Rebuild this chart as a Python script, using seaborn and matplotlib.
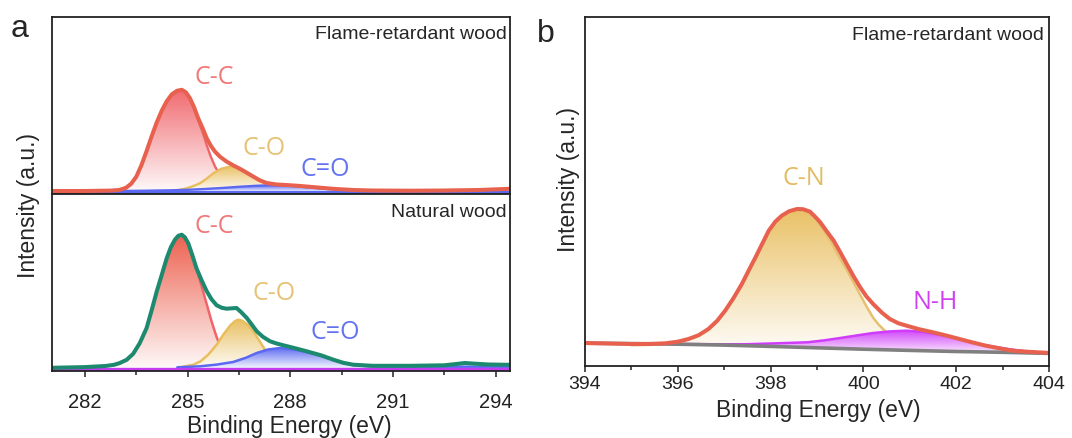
import numpy as np
import matplotlib
matplotlib.use("Agg")
import matplotlib.pyplot as plt
import matplotlib.colors as mcolors
from matplotlib.patches import Polygon
from matplotlib.ticker import FixedLocator
import seaborn as sns

# ---------------- data (binding energy in eV, intensity in arbitrary units) ----------------
# Panel a, top: flame-retardant wood, C 1s
fr_env_x = [281.03, 282.0, 282.75, 283.0, 283.2, 283.35, 283.5, 283.65, 283.8, 283.95, 284.1, 284.25, 284.39,
            284.54, 284.69, 284.83, 284.95, 285.07, 285.19, 285.31, 285.44, 285.56, 285.68, 285.8, 285.95,
            286.14, 286.33, 286.53, 286.73, 286.92, 287.11, 287.31, 287.6, 287.89, 288.3, 288.67, 289.25,
            289.84, 290.4, 291.5, 292.5, 293.5, 294.42]
fr_env_y = [3.3, 3.3, 3.7, 4.3, 6.5, 10.5, 17.5, 29, 43, 58, 72, 84, 93,
            100, 103.5, 104.5, 102, 96, 87, 76, 66, 56, 48.5, 42.7, 37.5,
            32.7, 29, 25.5, 21.5, 17.7, 14, 11.3, 9.8, 9.3, 8.3, 7.2, 5.5,
            4.3, 3.8, 3.6, 3.8, 4.3, 5.5]
fr_cc_x = [282.9, 283.0, 283.2, 283.35, 283.5, 283.65, 283.8, 283.95, 284.1, 284.25, 284.39, 284.54, 284.69,
           284.83, 284.95, 285.07, 285.19, 285.31, 285.44, 285.56, 285.68, 285.8, 285.93, 286.07, 286.22,
           286.4, 286.65, 287.0]
fr_cc_y = [3.6, 4.3, 6.5, 10.5, 17.5, 29, 43, 58, 72, 84, 93, 100, 103.5,
           104.5, 102, 95.5, 86, 74, 62, 49, 37.5, 28, 20, 13.5, 8.5,
           5.5, 4, 3.5]
fr_co_x = [284.7, 284.97, 285.17, 285.36, 285.55, 285.75, 285.98, 286.24, 286.43, 286.63, 286.82, 287.02,
           287.17, 287.31, 287.55, 287.8, 288.1, 288.4]
fr_co_y = [4, 6, 8.3, 11, 15.5, 21, 25.5, 27.7, 27, 24.3, 20.3, 15,
           12.3, 10, 7.5, 5.2, 4, 3.5]
fr_cdo_x = [283.0, 283.8, 284.5, 285.0, 285.5, 286.0, 286.5, 287.0, 287.4, 287.8, 288.2, 288.6,
            289.0, 289.5, 290.0, 290.5]
fr_cdo_y = [3.3, 3.6, 4, 4.5, 5.3, 6.3, 7.5, 8.5, 9, 8.8, 8, 6.8,
            5.5, 4.3, 3.5, 3.3]
fr_base_x = [281.03, 294.42]
fr_base_y = [2.5, 2.5]

# Panel a, bottom: natural wood, C 1s
nw_env_x = [281.03, 282.0, 282.6, 282.85, 283.02, 283.22, 283.41, 283.6, 283.8, 283.95, 284.1, 284.25, 284.39,
            284.51, 284.63, 284.73, 284.83, 284.92, 285.02, 285.14, 285.26, 285.41, 285.56, 285.7, 285.85,
            286.0, 286.14, 286.3, 286.43, 286.57, 286.73, 286.88, 287.02, 287.2, 287.41, 287.6, 287.8,
            288.15, 288.48, 288.9, 289.26, 289.55, 289.84, 290.4, 291.5, 292.5, 292.9, 293.1, 293.4,
            293.8, 294.42]
nw_env_y = [3.5, 4.2, 5.3, 6.5, 8.3, 11.5, 17.5, 28, 43, 61, 80, 97, 113,
            124, 131.6, 135.5, 136.6, 134, 128, 116, 103, 91, 80, 72, 66,
            63.5, 62.6, 63, 63.3, 59, 53.3, 46.5, 40, 34.5, 30, 27.8, 26,
            23, 20, 16, 11.6, 8.5, 6.6, 5.5, 5.5, 6, 7.5, 8.3, 7.6,
            6.8, 6.5]
nw_cc_x = [282.85, 283.02, 283.22, 283.41, 283.6, 283.8, 283.95, 284.1, 284.25, 284.39, 284.51, 284.63,
           284.73, 284.83, 284.92, 285.02, 285.14, 285.26, 285.41, 285.56, 285.7, 285.85, 286.0, 286.17,
           286.37, 286.6, 286.9]
nw_cc_y = [6.5, 8.3, 11.5, 17.5, 28, 43, 61, 80, 97, 113, 124, 131.6,
           135.5, 136.6, 134, 128, 116, 103, 85, 67, 50, 34, 22, 13,
           7.5, 5, 4]
nw_co_x = [284.85, 285.17, 285.38, 285.6, 285.85, 286.05, 286.25, 286.38, 286.48, 286.6, 286.76, 286.92,
           287.08, 287.26, 287.5, 287.75, 288.0, 288.3]
nw_co_y = [4.5, 6.6, 10, 16.5, 26.6, 37, 46, 50, 51.6, 50.5, 46.5, 40,
           31.5, 21.6, 13.5, 8, 5.5, 4.5]
nw_cdo_x = [284.7, 285.36, 285.85, 286.33, 286.7, 287.02, 287.35, 287.7, 288.1, 288.48, 288.9, 289.26,
            289.55, 289.84, 290.3, 290.8, 292.0, 294.42]
nw_cdo_y = [4, 5, 6.7, 9.3, 13.5, 18.3, 21.8, 23.3, 22, 19.3, 15.5, 11.3,
            8.2, 6.3, 5, 4.6, 4.6, 4.6]
nw_base_x = [281.03, 294.42]
nw_base_y = [2.8, 2.8]

# Panel b: flame-retardant wood, N 1s
n_env_x = [394.0, 394.5, 395.0, 395.4, 395.73, 396.0, 396.23, 396.45, 396.66, 396.85, 397.02, 397.2,
           397.38, 397.52, 397.67, 397.82, 397.96, 398.1, 398.24, 398.4, 398.57, 398.7, 398.85, 399.0,
           399.07, 399.2, 399.36, 399.5, 399.64, 399.78, 399.93, 400.07, 400.21, 400.4, 400.57, 400.75,
           400.93, 401.2, 401.5, 401.8, 402.07, 402.35, 402.64, 402.93, 403.21, 403.6, 404.0]
n_env_y = [22.7, 22.2, 21.7, 21.8, 22.4, 24, 26.7, 30.5, 36.7, 45, 55, 67.5,
           81.7, 94.5, 108, 122, 135, 144, 150, 154.5, 156.7, 156.5, 154, 147,
           143.4, 135, 125, 113.5, 101.7, 90, 78.4, 69, 61.7, 53, 46.7, 42.5,
           40, 36.5, 33.4, 30, 26.7, 23.3, 20, 17.4, 15, 13.8, 12.8]
n_cn_x = [395.0, 395.4, 395.73, 396.0, 396.23, 396.45, 396.66, 396.85, 397.02, 397.2, 397.38, 397.52,
          397.67, 397.82, 397.96, 398.1, 398.24, 398.4, 398.57, 398.7, 398.85, 399.0, 399.15, 399.3,
          399.45, 399.64, 399.78, 399.93, 400.07, 400.21, 400.33, 400.46, 400.6, 400.8, 401.0, 401.3,
          401.7, 402.2]
n_cn_y = [20.5, 20.8, 21.8, 23.5, 26.2, 30.3, 36.5, 45, 55, 67.5, 81.7, 94.5,
          108, 122, 135, 144, 150, 154.5, 156.7, 156, 153, 145.5, 135.5, 124,
          111, 96, 84, 71, 59, 48, 41, 35, 30, 25.5, 22, 19,
          17, 15.5]
n_nh_x = [396.0, 397.0, 397.5, 398.0, 398.4, 398.79, 399.15, 399.5, 399.85, 400.21, 400.57, 400.93,
          401.28, 401.64, 402.0, 402.36, 402.7, 403.07, 403.5, 404.0]
n_nh_y = [21.7, 21.4, 21.5, 22.2, 22.8, 23.4, 25.3, 27.7, 30.2, 32.7, 34.3, 35,
          34, 31, 27.5, 22.8, 19.8, 17, 14.3, 12.5]
n_base_x = [394, 395, 396, 397, 398, 399, 400, 401, 402, 403, 404]
n_base_y = [22.5, 22.1, 21.5, 20.6, 19.3, 17.9, 16.5, 15.3, 14.2, 13.4, 12.3]

# tick labels
a_ticks = [282, 285, 288, 291, 294]
a_minor = [283.5, 286.5, 289.5, 292.5]
b_ticks = [394, 396, 398, 400, 402, 404]
b_minor = [395, 397, 399, 401, 403]

# ---------------- style ----------------
sns.set_theme(style="ticks")
plt.rcParams["font.family"] = ["Liberation Sans", "DejaVu Sans"]
plt.rcParams["axes.edgecolor"] = "#222222"
plt.rcParams["xtick.color"] = "#222222"

ENV_RED = "#E8614E"
CC_RED = "#F0646A"
CO_GOLD = "#E8BE5E"
CDO_BLUE = "#5A68F2"
TEAL = "#1D8A70"
PURPLE = "#C43CF0"
NH_MAG = "#CF3CFA"
GRAY = "#808080"

W, H = 1072, 439
fig = plt.figure(figsize=(W / 100, H / 100), dpi=100)


def fx(px):
    return px / W


def fy(py):
    return 1 - py / H


ax_top = fig.add_axes([fx(51.7), fy(195.3), fx(510) - fx(51.7), fy(18.3) - fy(195.3)])
ax_bot = fig.add_axes([fx(51.7), fy(372.3), fx(510) - fx(51.7), fy(195.3) - fy(372.3)])
ax_b = fig.add_axes([fx(585), fy(366.7), fx(1049) - fx(585), fy(18.3) - fy(366.7)])


def line(ax, x, y, color, lw, z):
    sns.lineplot(x=x, y=y, ax=ax, color=color, linewidth=lw, zorder=z,
                 estimator=None, sort=False, legend=False, solid_joinstyle="round")


def grad_fill(ax, x, y, bx, by, color, tmax=0.95, tmin=0.03, z=1):
    px = list(x) + list(bx)
    py = list(y) + list(by)
    poly = Polygon(np.column_stack([px, py]), closed=True, facecolor="none",
                   edgecolor="none", transform=ax.transData)
    ax.add_patch(poly)
    top, bot = max(y), min(by)
    n = 256
    t = np.linspace(tmax, tmin, n)[:, None]
    rgb = np.array(mcolors.to_rgb(color))
    rgba = np.ones((n, 2, 4))
    rgba[..., :3] = t[..., None] * rgb + (1 - t[..., None]) * 1.0
    im = ax.imshow(rgba, extent=[min(px), max(px), bot, top], origin="upper",
                   aspect="auto", zorder=z, interpolation="bilinear")
    im.set_clip_path(poly)


def flat_base(x, v):
    return [x[-1], x[0]], [v, v]


# ---- panel a top ----
ax = ax_top
z = 1.0
for xs, ys, fc, lc in [(fr_cc_x, fr_cc_y, CC_RED, CC_RED), (fr_co_x, fr_co_y, CO_GOLD, CO_GOLD),
                       (fr_cdo_x, fr_cdo_y, CDO_BLUE, CDO_BLUE)]:
    bx, by = flat_base(xs, 2.5)
    grad_fill(ax, xs, ys, bx, by, fc, z=z)
    line(ax, xs, ys, lc, 1.7, z + 0.05)
    z += 0.1
line(ax, fr_base_x, fr_base_y, CDO_BLUE, 2.2, 2)
line(ax, fr_env_x, fr_env_y, ENV_RED, 2.9, 3)
ax.set_xlim(281.03, 294.42)
ax.set_ylim(0, 177)

# ---- panel a bottom ----
ax = ax_bot
z = 1.0
for xs, ys, fc, lc in [(nw_cc_x, nw_cc_y, "#EC5A48", CC_RED), (nw_co_x, nw_co_y, CO_GOLD, CO_GOLD),
                       (nw_cdo_x, nw_cdo_y, CDO_BLUE, CDO_BLUE)]:
    bx, by = flat_base(xs, 2.8)
    grad_fill(ax, xs, ys, bx, by, fc, z=z)
    line(ax, xs, ys, lc, 1.8, z + 0.05)
    z += 0.1
line(ax, nw_base_x, nw_base_y, PURPLE, 2.4, 2)
line(ax, nw_env_x, nw_env_y, TEAL, 2.9, 3)
ax.set_xlim(281.03, 294.42)
ax.set_ylim(0, 177)

# ---- panel b ----
ax = ax_b
grad_fill(ax, n_cn_x, n_cn_y, n_base_x[::-1], n_base_y[::-1], CO_GOLD, z=1.0)
line(ax, n_cn_x, n_cn_y, "#E6C070", 1.8, 1.05)
grad_fill(ax, n_nh_x, n_nh_y, n_base_x[::-1], n_base_y[::-1], NH_MAG, tmin=0.12, z=1.1)
line(ax, n_nh_x, n_nh_y, NH_MAG, 1.8, 1.15)
line(ax, n_base_x, n_base_y, GRAY, 2.6, 2)
line(ax, n_env_x, n_env_y, ENV_RED, 2.9, 3)
ax.set_xlim(394, 404)
ax.set_ylim(0, 348.4)

# ---- axes styling ----
for ax in (ax_top, ax_bot, ax_b):
    ax.set_yticks([])
    ax.set_ylabel("")
    ax.set_xlabel("")
    for s in ax.spines.values():
        s.set_linewidth(1.3)
        s.set_color("#222222")
        s.set_visible(True)
        s.set_zorder(5)

ax_top.tick_params(axis="x", which="both", bottom=False, labelbottom=False)

ax_bot.xaxis.set_major_locator(FixedLocator(a_ticks))
ax_bot.xaxis.set_minor_locator(FixedLocator(a_minor))
ax_bot.set_xticklabels([str(t) for t in a_ticks])
ax_bot.tick_params(axis="x", which="major", direction="out", length=4.5, width=1.1,
                   labelsize=14.5, pad=10.5, bottom=True)
ax_bot.tick_params(axis="x", which="minor", direction="out", length=2.8, width=1.1, bottom=True)

ax_b.xaxis.set_major_locator(FixedLocator(b_ticks))
ax_b.xaxis.set_minor_locator(FixedLocator(b_minor))
ax_b.set_xticklabels([str(t) for t in b_ticks])
ax_b.tick_params(axis="x", which="major", direction="out", length=4.5, width=1.1,
                 labelsize=14, pad=2.5, bottom=True)
ax_b.tick_params(axis="x", which="minor", direction="out", length=2.8, width=1.1, bottom=True)

ax_bot.set_xlabel("Binding Energy (eV)", fontsize=16.5)
ax_bot.xaxis.set_label_coords(0.518, -0.24)
ax_b.set_xlabel("Binding Energy (eV)", fontsize=16.5)
ax_b.xaxis.set_label_coords(0.503, -0.092)

fig.text(fx(28.7), fy(205), "Intensity (a.u.)", rotation=90, ha="center", va="center", fontsize=16.5)
fig.text(fx(568), fy(180), "Intensity (a.u.)", rotation=90, ha="center", va="center", fontsize=16.5)

fig.text(fx(20), fy(36.7), "a", ha="center", va="baseline", fontsize=23)
fig.text(fx(546), fy(41.7), "b", ha="center", va="baseline", fontsize=23)

ax_top.text(0.9935, 0.8836, "Flame-retardant wood", transform=ax_top.transAxes,
            ha="right", va="baseline", fontsize=14)
ax_bot.text(0.9935, 0.878, "Natural wood", transform=ax_bot.transAxes,
            ha="right", va="baseline", fontsize=14)
ax_b.text(0.990, 0.9377, "Flame-retardant wood", transform=ax_b.transAxes,
          ha="right", va="baseline", fontsize=14)

PF = ["Open Sans", "DejaVu Sans"]
lab = dict(ha="center", va="center", fontsize=18, family=PF)
ax_top.text(285.77, 117.5, "C-C", color="#F07878", **lab)
ax_top.text(287.23, 46.5, "C-O", color="#E6C274", **lab)
ax_top.text(289.03, 26.3, "C=O", color="#6373F0", **lab)
ax_bot.text(285.77, 146, "C-C", color="#F07878", **lab)
ax_bot.text(287.52, 78.4, "C-O", color="#E6C274", **lab)
ax_bot.text(289.3, 39.5, "C=O", color="#6373F0", **lab)
ax_b.text(398.72, 187.7, "C-N", color="#E2BC62", **lab)
ax_b.text(401.55, 64, "N-H", color="#D040F2", **lab)

fig.savefig("out.png", dpi=100)
